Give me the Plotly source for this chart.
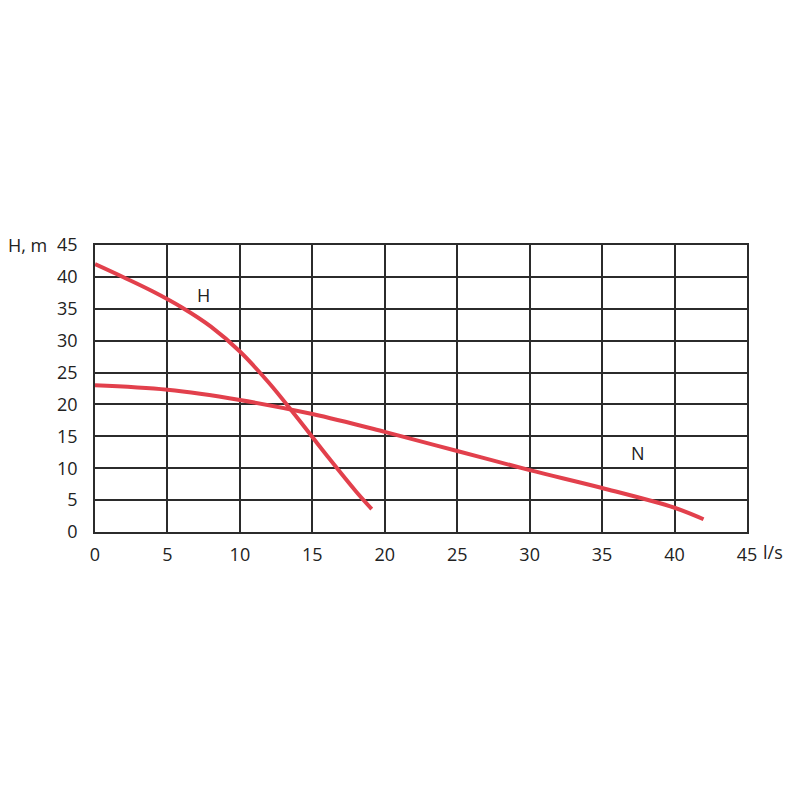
import plotly.graph_objects as go

# pump curves
flow_h = [0, 2, 4, 6, 8, 10, 12, 14, 16, 18, 19.1]
head_h = [42, 39.9, 37.7, 35.2, 32.2, 28.3, 23.4, 17.8, 12.0, 6.4, 3.6]

flow_n = [0, 5, 10, 15, 20, 25, 30, 35, 40, 42]
head_n = [23, 22.3, 20.7, 18.5, 15.7, 12.7, 9.7, 6.9, 3.8, 2.0]

x_ticks = [0, 5, 10, 15, 20, 25, 30, 35, 40, 45]
y_ticks = [0, 5, 10, 15, 20, 25, 30, 35, 40, 45]

red = "#e2404c"
grid = "#2b2b2b"
font = "Open Sans, DejaVu Sans, sans-serif"
txt = dict(size=18, color="#222", family=font)

fig = go.Figure()
fig.add_trace(go.Scatter(x=flow_h, y=head_h, mode="lines", line=dict(color=red, width=4, shape="spline")))
fig.add_trace(go.Scatter(x=flow_n, y=head_n, mode="lines", line=dict(color=red, width=4, shape="spline")))

axis_common = dict(showgrid=True, gridcolor=grid, gridwidth=1.5, zeroline=False,
                   showline=True, linecolor=grid, linewidth=1.5, mirror=True,
                   ticks="", tickfont=txt)

# the page body adds 8px, so margins are shifted by that
fig.update_layout(
    width=800, height=800, showlegend=False,
    plot_bgcolor="white", paper_bgcolor="white",
    margin=dict(l=87, r=61, t=237, b=276),
    xaxis=dict(range=[0, 45], tickvals=x_ticks, ticklabelstandoff=6, **axis_common),
    yaxis=dict(range=[0, 45], tickvals=y_ticks, ticklabelstandoff=12, **axis_common),
)

# curve labels and axis units
for x, y, t in [(7.5, 37.2, "H"), (37.5, 12.4, "N")]:
    fig.add_annotation(x=x, y=y, text=t, showarrow=False, font=txt)
fig.add_annotation(x=45, y=0, text="l/s", showarrow=False, xanchor="left", yanchor="top",
                   xshift=14, yshift=-6, font=txt)
fig.add_annotation(x=0, y=45, text="H, m", showarrow=False, xanchor="right",
                   xshift=-46, font=txt)

fig.write_html("out.html")
